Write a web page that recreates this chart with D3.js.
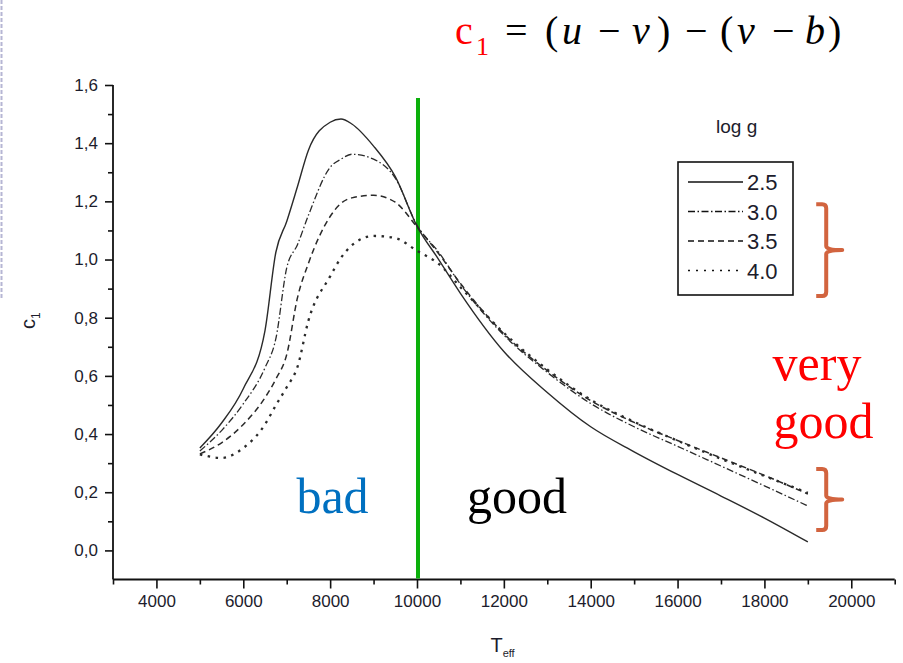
<!DOCTYPE html>
<html>
<head>
<meta charset="utf-8">
<script src="https://cdn.jsdelivr.net/npm/d3@7"></script>
<style>
  html, body { margin: 0; padding: 0; background: #fff; }
  svg { display: block; }
</style>
</head>
<body>
<svg id="chart" width="903" height="663"></svg>
<script>
// ---------- DATA ----------
const temps = [5000, 5500, 6000, 6500, 6750, 7000, 7250, 7500, 8000, 8250, 8500, 9000, 9500,
  10000, 10500, 11000, 12000, 13000, 14000, 15000, 16000, 17000, 18000, 19000];
const logg25 = [0.352, 0.438, 0.556, 0.756, 1.025, 1.131, 1.252, 1.376, 1.472, 1.483, 1.466, 1.390, 1.285,
  1.115, 1.000, 0.884, 0.684, 0.543, 0.425, 0.339, 0.261, 0.187, 0.111, 0.029];
const logg30 = [0.342, 0.412, 0.504, 0.628, 0.728, 0.971, 1.052, 1.152, 1.317, 1.345, 1.362, 1.345, 1.280,
  1.118, 1.025, 0.915, 0.740, 0.612, 0.505, 0.425, 0.358, 0.290, 0.222, 0.153];
const logg35 = [0.332, 0.370, 0.433, 0.525, 0.589, 0.673, 0.870, 0.987, 1.148, 1.193, 1.212, 1.221, 1.197,
  1.112, 1.020, 0.918, 0.745, 0.618, 0.515, 0.440, 0.378, 0.318, 0.258, 0.194];
const logg40 = [0.330, 0.318, 0.352, 0.433, 0.499, 0.561, 0.632, 0.790, 0.942, 1.006, 1.049, 1.081, 1.074,
  1.030, 0.985, 0.905, 0.748, 0.622, 0.518, 0.442, 0.377, 0.315, 0.256, 0.198];
const seriesNames = ["2.5", "3.0", "3.5", "4.0"];
const xMajorTicks = [4000, 6000, 8000, 10000, 12000, 14000, 16000, 18000, 20000];
const xMinorTicks = [3000, 5000, 7000, 9000, 11000, 13000, 15000, 17000, 19000, 21000];
const yMajorTicks = [0, 0.2, 0.4, 0.6, 0.8, 1.0, 1.2, 1.4, 1.6];
const yMinorTicks = [0.1, 0.3, 0.5, 0.7, 0.9, 1.1, 1.3, 1.5];
const boundaryT = 10000;

// ---------- LAYOUT ----------
const svg = d3.select("#chart");
const x = d3.scaleLinear().domain([3000, 21000]).range([113, 894.7]);
const y = d3.scaleLinear().domain([-0.1, 1.6]).range([579.5, 85]);
const axisColor = "#111";
const sans = "'Liberation Sans', Arial, sans-serif";
const serif = "'Liberation Serif', 'Times New Roman', serif";

// left dashed page border
svg.append("line").attr("x1", 1.5).attr("x2", 1.5).attr("y1", 0).attr("y2", 300)
  .attr("stroke", "#b6b6d4").attr("stroke-width", 2).attr("stroke-dasharray", "4,2");

// ---------- AXES ----------
const fmtComma = d => d3.format(".1f")(d).replace(".", ",");
const xAxisG = svg.append("g").attr("transform", `translate(0,${y(-0.1)})`);
xAxisG.call(d3.axisBottom(x).tickValues(xMajorTicks).tickSize(9).tickPadding(6).tickFormat(d3.format("d")));
const xMinorG = svg.append("g").attr("transform", `translate(0,${y(-0.1)})`);
xMinorG.call(d3.axisBottom(x).tickValues(xMinorTicks).tickSize(5).tickFormat(""));
const yAxisG = svg.append("g").attr("transform", `translate(${x(3000)},0)`);
yAxisG.call(d3.axisLeft(y).tickValues(yMajorTicks).tickSize(8).tickPadding(7).tickFormat(fmtComma));
const yMinorG = svg.append("g").attr("transform", `translate(${x(3000)},0)`);
yMinorG.call(d3.axisLeft(y).tickValues(yMinorTicks).tickSize(5).tickFormat(""));

[xAxisG, xMinorG, yAxisG, yMinorG].forEach(g => {
  g.selectAll("path.domain").attr("stroke", axisColor).attr("stroke-width", 1.8);
  g.selectAll(".tick line").attr("stroke", axisColor).attr("stroke-width", 1.6);
  g.selectAll(".tick text").attr("fill", "#1c1c2c").style("font-family", sans).style("font-size", "17px");
});
xMinorG.select("path.domain").remove();
yMinorG.select("path.domain").remove();
yAxisG.select("path.domain").attr("d", `M0,${y(1.6)}V${y(-0.1)}`);
xAxisG.select("path.domain").attr("d", `M${x(3000)},0H${x(21000)}`);

// axis titles
const yTitle = svg.append("text")
  .attr("transform", `translate(35,${y(0.79)}) rotate(-90)`)
  .attr("text-anchor", "middle").style("font-family", sans).style("font-size", "20px").attr("fill", "#1c1c2c");
yTitle.append("tspan").text("c");
yTitle.append("tspan").attr("dy", 5).style("font-size", "12px").text("1");

const xTitle = svg.append("text")
  .attr("x", x(11000) + 30).attr("y", 652)
  .style("font-family", sans).style("font-size", "20px").attr("fill", "#1c1c2c");
xTitle.append("tspan").text("T");
xTitle.append("tspan").attr("dy", 5).style("font-size", "11px").text("eff");

// ---------- BOUNDARY LINE ----------
svg.append("line")
  .attr("x1", x(boundaryT) + 1).attr("x2", x(boundaryT) + 1)
  .attr("y1", y(1.555)).attr("y2", y(-0.1) - 1)
  .attr("stroke", "#0bb00b").attr("stroke-width", 4);

// ---------- CURVES ----------
const styles = [
  { dash: null, width: 1.4 },
  { dash: "7,2.5,1.5,2.5", width: 1.3 },
  { dash: "6,4", width: 1.5 },
  { dash: "2.5,5.5", width: 2.3 }
];
const allSeries = [logg25, logg30, logg35, logg40];
const line = d3.line().x(d => x(d[0])).y(d => y(d[1])).curve(d3.curveMonotoneX);
allSeries.forEach((vals, i) => {
  svg.append("path")
    .datum(temps.map((t, k) => [t, vals[k]]))
    .attr("d", line)
    .attr("fill", "none")
    .attr("stroke", "#2a2a2a")
    .attr("stroke-width", styles[i].width)
    .attr("stroke-dasharray", styles[i].dash);
});

// ---------- LEGEND ----------
svg.append("text").attr("x", 716).attr("y", 133)
  .style("font-family", sans).style("font-size", "19px").attr("fill", "#1c1c2c").text("log g");
svg.append("rect").attr("x", 678).attr("y", 162).attr("width", 115).attr("height", 133)
  .attr("fill", "none").attr("stroke", "#111").attr("stroke-width", 1.6);
seriesNames.forEach((name, i) => {
  const ly = 182 + i * 29.5;
  svg.append("line").attr("x1", 688).attr("x2", 743).attr("y1", ly).attr("y2", ly)
    .attr("stroke", "#111").attr("stroke-width", i === 3 ? 1.6 : styles[i].width)
    .attr("stroke-dasharray", i === 3 ? "2,6" : styles[i].dash);
  svg.append("text").attr("x", 747).attr("y", ly + 8)
    .style("font-family", sans).style("font-size", "22px").attr("fill", "#1c1c2c").text(name);
});

// ---------- BRACES ----------
const braceColor = "#d2643f";
function brace(xv, top, bot) {
  const mid = (top + bot) / 2;
  const p = `M${xv - 9},${top} L${xv - 3},${top} Q${xv + 1},${top} ${xv + 1},${top + 4} L${xv + 1},${mid - 4}` +
    ` Q${xv + 1},${mid} ${xv + 17},${mid} Q${xv + 1},${mid} ${xv + 1},${mid + 4}` +
    ` L${xv + 1},${bot - 4} Q${xv + 1},${bot} ${xv - 3},${bot} L${xv - 9},${bot}`;
  svg.append("path").attr("d", p).attr("fill", "none").attr("stroke", braceColor)
    .attr("stroke-width", 4).attr("stroke-linejoin", "round");
}
brace(x(19400), y(1.19), y(0.875));
brace(x(19400), y(0.28), y(0.07));

// ---------- ANNOTATIONS ----------
function label(txt, cx, by, color) {
  svg.append("text").attr("x", cx).attr("y", by).attr("text-anchor", "middle")
    .style("font-family", serif).style("font-size", "50px").attr("fill", color).text(txt);
}
label("bad", 332.5, 513, "#0070c0");
label("good", 517, 513, "#000");
label("very", 817, 380, "#ff0000");
label("good", 823.5, 438, "#ff0000");

// ---------- TITLE FORMULA ----------
const titleTokens = [
  ["c", 455, "#ff0000", false, false], ["1", 476, "#ff0000", false, true],
  ["=", 505, "#000", false, false], ["(", 545, "#000", false, false],
  ["u", 562, "#000", true, false], ["\u2212", 598, "#000", false, false],
  ["v", 632, "#000", true, false], [")", 657, "#000", false, false],
  ["\u2212", 685, "#000", false, false], ["(", 720, "#000", false, false],
  ["v", 737, "#000", true, false], ["\u2212", 772, "#000", false, false],
  ["b", 805, "#000", true, false], [")", 828, "#000", false, false]
];
titleTokens.forEach(([t, tx, col, ital, sub]) => {
  svg.append("text").attr("x", tx).attr("y", sub ? 55 : 44)
    .style("font-family", serif).style("font-size", sub ? "26px" : "40px")
    .style("font-style", ital ? "italic" : "normal")
    .attr("fill", col).text(t);
});
</script>
</body>
</html>
